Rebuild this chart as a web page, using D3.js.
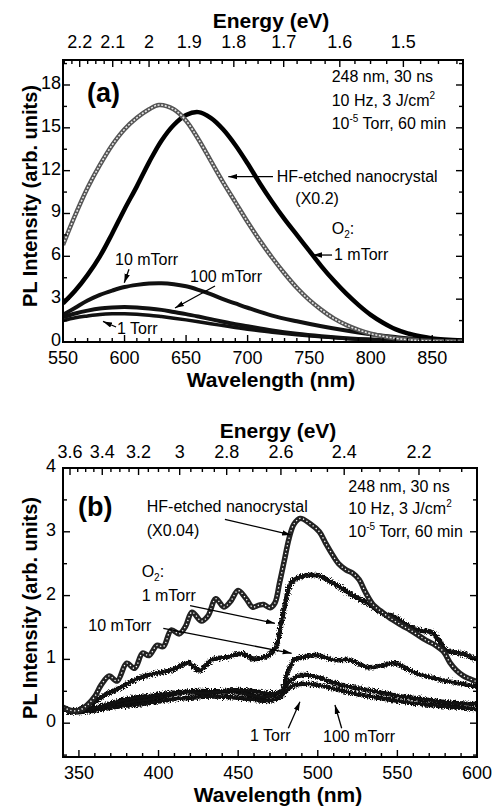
<!DOCTYPE html>
<html>
<head>
<meta charset="utf-8">
<script src="https://cdn.jsdelivr.net/npm/d3@7/dist/d3.min.js"></script>
<style>
  body { margin: 0; background: #fff; }
  svg { display: block; font-family: "Liberation Sans", Arial, sans-serif; }
</style>
</head>
<body>
<svg id="fig" width="495" height="808"></svg>
<script>
var HC = 1239.84; // eV*nm

// ---------- panel (a) ----------
var aWaveTicks = [550, 600, 650, 700, 750, 800, 850];
var aIntTicks = [0, 3, 6, 9, 12, 15, 18];
var aEnergyTicks = [2.2, 2.1, 2.0, 1.9, 1.8, 1.7, 1.6, 1.5];

// HF-etched nanocrystal (x0.2), open symbols
var aHF = [[550,6.8],[560,8.9],[570,10.8],[580,12.4],[590,13.8],[600,14.9],[610,15.7],[620,16.3],[628,16.6],
  [640,16.3],[650,15.5],[660,14.2],[670,12.7],[680,11.2],[690,9.8],[700,8.4],[710,7.1],[720,5.9],[730,4.8],
  [740,3.8],[750,2.95],[760,2.25],[770,1.65],[780,1.2],[790,0.85],[800,0.58],[820,0.26],[840,0.1],[875,0.03]];
var a1mTorr = [[550,2.7],[560,3.6],[570,4.7],[580,6.0],[590,7.6],[600,9.3],[610,10.9],[620,12.6],[630,14.1],
  [640,15.2],[650,15.9],[660,16.1],[670,15.7],[680,14.9],[690,13.8],[700,12.5],[710,11.1],[720,9.8],[730,8.6],
  [740,7.5],[750,6.4],[760,5.3],[770,4.3],[780,3.4],[790,2.6],[800,1.9],[810,1.35],[820,0.9],[830,0.6],
  [840,0.4],[850,0.25],[875,0.1]];
var a10mTorr = [[550,1.9],[560,2.4],[570,2.9],[580,3.3],[590,3.6],[600,3.85],[610,4.0],[620,4.1],[630,4.12],
  [640,4.05],[650,3.9],[660,3.65],[670,3.35],[680,3.0],[690,2.7],[700,2.4],[720,1.85],[740,1.45],[760,1.1],
  [780,0.8],[800,0.55],[820,0.35],[840,0.2],[875,0.1]];
var a100mTorr = [[550,1.75],[560,2.0],[570,2.2],[580,2.35],[590,2.42],[600,2.45],[610,2.42],[620,2.35],[630,2.25],
  [640,2.1],[650,1.95],[660,1.78],[670,1.6],[680,1.42],[690,1.25],[700,1.1],[720,0.8],[740,0.57],[760,0.4],
  [780,0.27],[800,0.18],[830,0.1],[875,0.05]];
var a1Torr = [[550,1.5],[560,1.7],[570,1.82],[580,1.92],[590,1.97],[600,1.98],[610,1.95],[620,1.88],[630,1.78],
  [640,1.67],[650,1.55],[660,1.42],[670,1.28],[680,1.15],[690,1.02],[700,0.9],[720,0.68],[740,0.5],[760,0.36],
  [780,0.25],[800,0.17],[830,0.1],[875,0.04]];

// ---------- panel (b) ----------
var bWaveTicks = [350, 400, 450, 500, 550, 600];
var bIntTicks = [0, 1, 2, 3, 4];
var bEnergyTicks = [3.6, 3.4, 3.2, 3.0, 2.8, 2.6, 2.4, 2.2];

var bHF = [[340,0.25],[345,0.2],[350,0.2],[355,0.28],[360,0.42],[364,0.6],[369,0.74],[374,0.66],[380,0.94],
  [385,0.86],[390,1.1],[394,1.06],[399,1.22],[403,1.2],[408,1.46],[413,1.4],[417,1.52],[421,1.74],[427,1.6],
  [431,1.68],[436,1.95],[441,1.82],[445,1.9],[450,2.08],[455,1.95],[459,1.82],[463,1.85],[466,1.86],[470,1.81],
  [473,1.88],[476,2.2],[479,2.55],[482,2.9],[485,3.12],[489,3.21],[495,3.13],[501,3.0],[505,2.82],[509,2.65],
  [513,2.5],[518,2.4],[522,2.35],[526,2.25],[530,2.05],[535,1.85],[540,1.75],[547,1.62],[553,1.53],[558,1.46],
  [563,1.38],[568,1.3],[574,1.22],[579,1.12],[583,0.95],[587,0.83],[591,0.75],[595,0.7],[600,0.65]];
var b1mTorr = [[340,0.25],[345,0.2],[350,0.22],[358,0.31],[366,0.44],[377,0.57],[387,0.7],[398,0.78],[408,0.83],
  [414,0.9],[419,0.94],[426,0.83],[433,0.99],[444,1.04],[452,1.09],[460,1.01],[466,1.03],[471,1.1],[474,1.2],
  [477,1.56],[480,1.93],[483,2.19],[489,2.29],[499,2.32],[510,2.19],[520,2.03],[531,1.88],[541,1.72],[548,1.67],
  [558,1.51],[565,1.45],[571,1.43],[576,1.3],[581,1.14],[591,1.09],[600,0.99]];
var b10mTorr = [[340,0.25],[345,0.2],[350,0.21],[358,0.23],[377,0.36],[398,0.44],[414,0.49],[429,0.47],[440,0.5],
  [450,0.52],[460,0.5],[471,0.47],[477,0.5],[481,0.78],[485,0.99],[492,1.04],[499,1.07],[510,0.99],[520,0.99],
  [531,0.88],[540,0.9],[548,0.94],[562,0.78],[579,0.67],[590,0.62],[600,0.57]];
var b100mTorr = [[340,0.25],[345,0.18],[352,0.2],[360,0.24],[375,0.3],[390,0.36],[405,0.43],[420,0.5],[435,0.5],
  [450,0.48],[462,0.42],[470,0.42],[476,0.48],[481,0.62],[486,0.72],[492,0.76],[500,0.72],[510,0.63],[520,0.57],
  [535,0.5],[550,0.43],[565,0.38],[580,0.33],[600,0.3]];
var b1Torr = [[340,0.25],[345,0.17],[352,0.18],[360,0.2],[375,0.26],[390,0.3],[405,0.36],[420,0.4],[435,0.42],
  [450,0.4],[462,0.36],[470,0.35],[476,0.4],[481,0.52],[486,0.6],[493,0.62],[500,0.6],[510,0.54],[520,0.48],
  [535,0.41],[550,0.35],[565,0.3],[580,0.26],[600,0.22]];

var svg = d3.select("#fig");
var defs = svg.append("defs");

defs.append("marker").attr("id", "arrow")
    .attr("viewBox", "0 0 10 6").attr("refX", 10).attr("refY", 3)
    .attr("markerUnits", "userSpaceOnUse")
    .attr("markerWidth", 9).attr("markerHeight", 6).attr("orient", "auto")
  .append("path").attr("d", "M0,0L10,3L0,6Z").attr("fill", "#000");

// rough trace look for the noisy spectra (texture only, data untouched)
var noise = defs.append("filter").attr("id", "noisy")
    .attr("x", "-5%").attr("y", "-30%").attr("width", "110%").attr("height", "160%");
noise.append("feTurbulence").attr("type", "fractalNoise").attr("baseFrequency", "1.4 0.7")
    .attr("numOctaves", 1).attr("seed", 4).attr("result", "t");
noise.append("feDisplacementMap").attr("in", "SourceGraphic").attr("in2", "t")
    .attr("scale", 7).attr("xChannelSelector", "R").attr("yChannelSelector", "G");

function range(lo, hi, step) {
    var out = [];
    for (var k = Math.ceil(lo / step - 1e-9); k * step <= hi + 1e-9; k++) out.push(+(k * step).toFixed(4));
    return out;
}

function panel(o) {
    var x = d3.scaleLinear().domain(o.xDom).range([o.left, o.right]);
    var y = d3.scaleLinear().domain(o.yDom).range([o.bottom, o.top]);
    var g = svg.append("g");

    defs.append("clipPath").attr("id", "clip" + o.name)
      .append("rect").attr("x", o.left).attr("y", o.top)
      .attr("width", o.right - o.left).attr("height", o.bottom - o.top);

    var line = d3.line()
        .x(function(d) { return x(d[0]); })
        .y(function(d) { return y(d[1]); })
        .curve(d3.curveCatmullRom.alpha(0.5));

    var plot = g.append("g").attr("clip-path", "url(#clip" + o.name + ")");
    o.series.forEach(function(s) {
        if (s.noisy) {
            plot.append("path")
                .attr("d", line(s.data))
                .attr("fill", "none")
                .attr("stroke", s.color)
                .attr("stroke-width", s.width + 2)
                .attr("filter", "url(#noisy)");
        }
        plot.append("path")
            .attr("d", line(s.data))
            .attr("fill", "none")
            .attr("stroke", s.color)
            .attr("stroke-width", s.width)
            .attr("stroke-linejoin", "round");
        if (s.dots) {
            plot.append("path")
                .attr("d", line(s.data))
                .attr("fill", "none")
                .attr("stroke", s.dots)
                .attr("stroke-width", s.dotWidth)
                .attr("stroke-dasharray", s.dash);
        }
    });

    // frame
    g.append("rect")
        .attr("x", o.left).attr("y", o.top)
        .attr("width", o.right - o.left).attr("height", o.bottom - o.top)
        .attr("fill", "none").attr("stroke", "#000").attr("stroke-width", 2);

    var ticks = g.append("g").attr("stroke", "#000").attr("stroke-width", 1.4);
    var big = 7, small = 4;

    // bottom wavelength ticks
    range(o.xDom[0], o.xDom[1], o.xMinor).forEach(function(v) {
        var len = o.xTicks.indexOf(v) >= 0 ? big : small;
        ticks.append("line").attr("x1", x(v)).attr("x2", x(v))
            .attr("y1", o.bottom).attr("y2", o.bottom - len);
    });
    // top energy ticks
    var eLo = HC / o.xDom[1], eHi = HC / o.xDom[0];
    range(eLo, eHi, o.eMinor).forEach(function(e) {
        var major = o.eTicks.some(function(t) { return Math.abs(t - e) < 1e-6; });
        var px = x(HC / e);
        ticks.append("line").attr("x1", px).attr("x2", px)
            .attr("y1", o.top).attr("y2", o.top + (major ? big : small));
    });
    // left and right intensity ticks
    range(o.yDom[0], o.yDom[1], o.yMinor).forEach(function(v) {
        var len = o.yTicks.indexOf(v) >= 0 ? big : small;
        ticks.append("line").attr("x1", o.left).attr("x2", o.left + len)
            .attr("y1", y(v)).attr("y2", y(v));
        ticks.append("line").attr("x1", o.right).attr("x2", o.right - len)
            .attr("y1", y(v)).attr("y2", y(v));
    });

    var lab = g.append("g").attr("font-size", 18).attr("fill", "#000");
    o.xTicks.forEach(function(v) {
        lab.append("text").attr("x", x(v)).attr("y", o.bottom + 22)
            .attr("text-anchor", "middle").text(v);
    });
    o.eTicks.forEach(function(e) {
        lab.append("text").attr("x", x(HC / e)).attr("y", o.top - o.eGap)
            .attr("text-anchor", "middle").text(d3.format("~g")(e));
    });
    o.yTicks.forEach(function(v) {
        lab.append("text").attr("x", o.left - o.yGap).attr("y", y(v) + 4)
            .attr("text-anchor", "end").text(v);
    });

    var mid = (o.left + o.right) / 2 + 8;
    g.append("text").attr("x", mid).attr("y", o.bottom + 45)
        .attr("text-anchor", "middle").attr("font-size", 21).attr("font-weight", "bold")
        .text("Wavelength (nm)");
    g.append("text").attr("x", mid).attr("y", o.top - o.eGap - 20)
        .attr("text-anchor", "middle").attr("font-size", 21).attr("font-weight", "bold")
        .text("Energy (eV)");
    g.append("text")
        .attr("transform", "translate(37," + o.yLabelMid + ") rotate(-90)")
        .attr("text-anchor", "middle").attr("font-size", 20).attr("font-weight", "bold")
        .text("PL Intensity (arb. units)");

    // panel letter
    g.append("text").attr("x", x(o.letter[0])).attr("y", y(o.letter[1]))
        .attr("font-size", 27).attr("font-weight", "bold").text(o.letter[2]);

    // annotation text
    var ann = g.append("g").attr("font-size", 16);
    o.notes.forEach(function(n) {
        var t = ann.append("text").attr("x", x(n.at[0])).attr("y", y(n.at[1]));
        n.parts.forEach(function(p) {
            var sp = t.append("tspan").text(p[0]);
            if (p[1] === "sup") sp.attr("font-size", 10).attr("dy", -7);
            if (p[1] === "sub") sp.attr("font-size", 10).attr("dy", 4);
            if (p[1] === "back") sp.attr("dy", p[2]);
        });
    });
    o.arrows.forEach(function(a) {
        ann.append("line")
            .attr("x1", x(a[0][0])).attr("y1", y(a[0][1]))
            .attr("x2", x(a[1][0])).attr("y2", y(a[1][1]))
            .attr("stroke", "#000").attr("stroke-width", 1.3)
            .attr("marker-end", "url(#arrow)");
    });
}

var recipe = [
    [["248 nm, 30 ns"]],
    [["10 Hz, 3 J/cm"], ["2", "sup"], ["", "back", 7]],
    [["10"], ["-5", "sup"], [" Torr, 60 min", "back", 7]]
];

panel({
    name: "a", left: 63, right: 463, top: 60, bottom: 342,
    xDom: [550, 875], yDom: [0, 19.75],
    xTicks: aWaveTicks, xMinor: 10,
    yTicks: aIntTicks, yMinor: 1.5, yGap: 2,
    eTicks: aEnergyTicks, eMinor: 0.025, eGap: 12,
    yLabelMid: 196,
    letter: [569.5, 16.8, "(a)"],
    series: [
        { data: a1Torr, color: "#111", width: 3.5 },
        { data: a100mTorr, color: "#111", width: 4 },
        { data: a10mTorr, color: "#111", width: 4 },
        { data: a1mTorr, color: "#000", width: 4.5 },
        { data: aHF, color: "#555", width: 4.5, dots: "#e6e6e6", dotWidth: 1.6, dash: "2 1.6" }
    ],
    notes: [
        { at: [768.3, 18.18], parts: recipe[0] },
        { at: [768.3, 16.55], parts: recipe[1] },
        { at: [768.3, 14.92], parts: recipe[2] },
        { at: [723.6, 11.18], parts: [["HF-etched nanocrystal"]] },
        { at: [738.8, 9.67], parts: [["(X0.2)"]] },
        { at: [768.3, 7.59], parts: [["O"], ["2", "sub"], [":", "back", -4]] },
        { at: [770.2, 5.74], parts: [["1 mTorr"]] },
        { at: [592.3, 5.39], parts: [["10 mTorr"]] },
        { at: [653.2, 4.17], parts: [["100 mTorr"]] },
        { at: [593.9, 0.56], parts: [["1 Torr"]] }
    ],
    arrows: [
        [[720.6, 11.58], [684.3, 11.58]],
        [[768.6, 6.09], [753.1, 6.09]],
        [[603.6, 5.09], [599.8, 4.15]],
        [[673.5, 3.92], [641.0, 2.38]],
        [[593.1, 1.05], [582.5, 1.44]]
    ]
});

panel({
    name: "b", left: 63, right: 477, top: 468, bottom: 757,
    xDom: [340, 600], yDom: [-0.53, 4],
    xTicks: bWaveTicks, xMinor: 10,
    yTicks: bIntTicks, yMinor: 0.5, yGap: 7,
    eTicks: bEnergyTicks, eMinor: 0.05, eGap: 10,
    yLabelMid: 608,
    letter: [349.4, 3.25, "(b)"],
    series: [
        { data: b1Torr, color: "#111", width: 2.5, noisy: true },
        { data: b100mTorr, color: "#111", width: 2.5, noisy: true },
        { data: b10mTorr, color: "#111", width: 2.5, noisy: true },
        { data: b1mTorr, color: "#111", width: 2.8, noisy: true },
        { data: bHF, color: "#222", width: 5.5, dots: "#fff", dotWidth: 1.3, dash: "1.3 2.6" }
    ],
    notes: [
        { at: [519.2, 3.618], parts: recipe[0] },
        { at: [519.2, 3.279], parts: recipe[1] },
        { at: [519.2, 2.912], parts: recipe[2] },
        { at: [392.6, 3.304], parts: [["HF-etched nanocrystal"]] },
        { at: [392.6, 2.939], parts: [["(X0.04)"]] },
        { at: [389.4, 2.285], parts: [["O"], ["2", "sub"], [":", "back", -4]] },
        { at: [389.4, 1.92], parts: [["1 mTorr"]] },
        { at: [355.9, 1.45], parts: [["10 mTorr"]] },
        { at: [457.4, -0.274], parts: [["1 Torr"]] },
        { at: [503.3, -0.301], parts: [["100 mTorr"]] }
    ],
    arrows: [
        [[441.7, 3.196], [483.2, 2.95]],
        [[419.8, 1.842], [473.1, 1.566]],
        [[403.0, 1.487], [483.6, 1.095]],
        [[481.5, -0.08], [488.8, 0.337]],
        [[515.0, -0.08], [510.8, 0.285]]
    ]
});
</script>
</body>
</html>
